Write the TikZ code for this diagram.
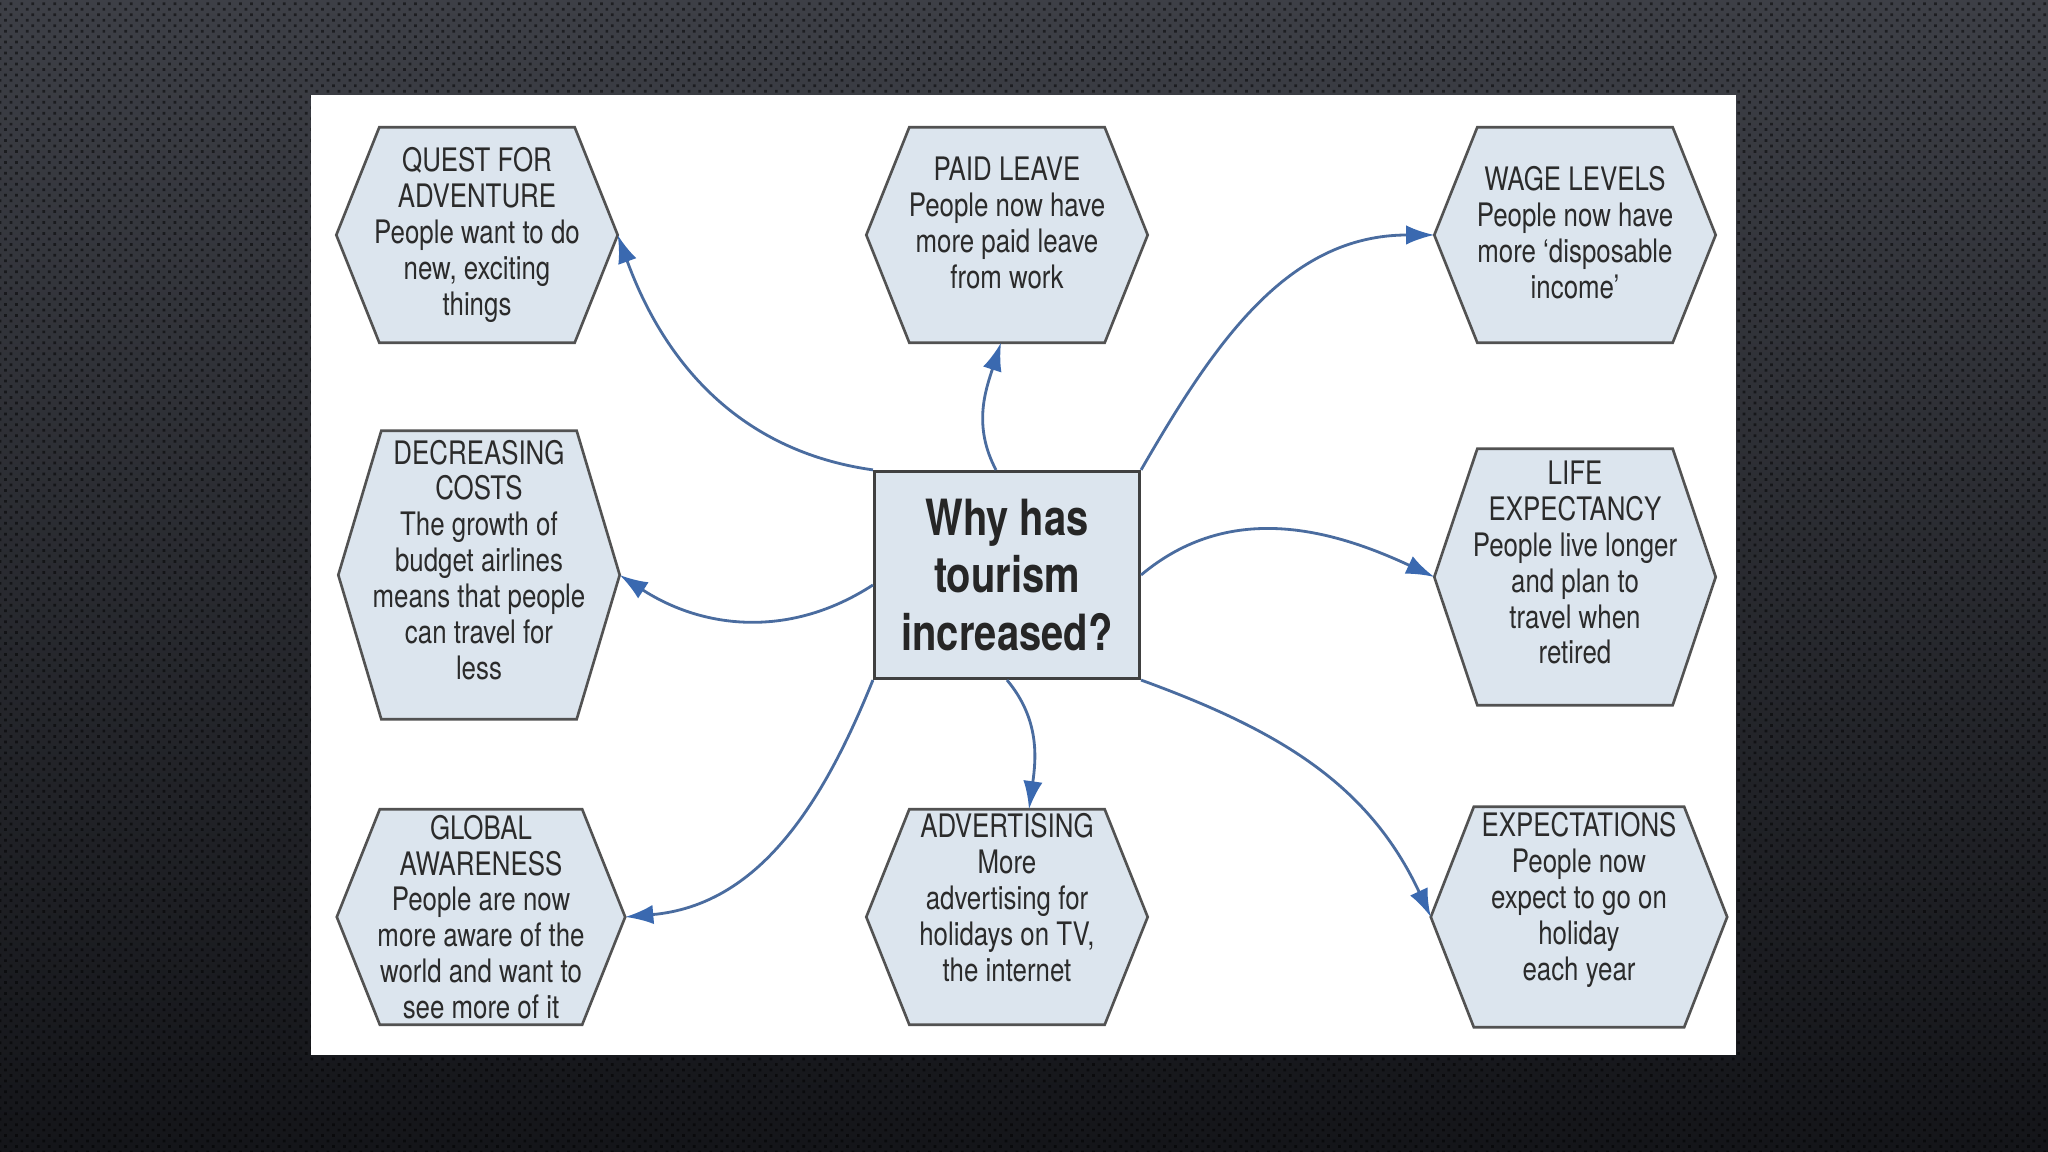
\documentclass[tikz,border=0pt]{standalone}
\usepackage{fontspec}
\setmainfont{TeX Gyre Heros}[FakeStretch=0.8]
\usepackage{xcolor}
\usepackage{tikz}
\usetikzlibrary{arrows.meta}
\usetikzlibrary{patterns.meta}
\usetikzlibrary{backgrounds}

\definecolor{bgtop}{HTML}{3D3F46}
\definecolor{bgbottom}{HTML}{141519}
\definecolor{hexfill}{HTML}{DCE5EE}
\definecolor{hexrim}{HTML}{525252}
\definecolor{inktext}{HTML}{2B2B2B}
\definecolor{linkblue}{HTML}{4A6C9F}
\definecolor{tipblue}{HTML}{3A69B0}

\begin{document}
\begin{tikzpicture}[
  hexbox/.style={inner sep=0pt, minimum width=2.8cm, minimum height=2.14cm,
    align=center, text=inktext, font=\fontsize{9.2}{10.2}\selectfont},
  hexline/.style={draw=hexrim, line width=0.75pt, fill=hexfill, line join=miter},
  whybox/.style={draw=black!75, line width=0.9pt, fill=hexfill, inner sep=0pt,
    minimum width=2.65cm, minimum height=2.07cm, align=center, text=black!85,
    font=\fontsize{14.2}{16.4}\selectfont\bfseries},
  link/.style={draw=linkblue, line width=0.8pt,
    -{Latex[length=8pt,width=5.5pt,fill=tipblue,color=tipblue]}},
]

\useasboundingbox (0,0) rectangle (20.48,11.52);

% centre question
\node [whybox] (why) at (10.07,5.77) {Why has\\tourism\\increased?};

% top row
\node [hexbox] (quest) at (4.77,9.17) {QUEST FOR\\ADVENTURE\\People want to do\\new, exciting\\things};
\node [hexbox, text depth=0.24cm] (paid) at (10.07,9.17) {PAID LEAVE\\People now have\\more paid leave\\from work};
\node [hexbox, text depth=0.05cm] (wage) at (15.75,9.17) {WAGE LEVELS\\People now have\\more `disposable\\income'};

% middle row
\node [hexbox, minimum height=2.87cm, text depth=0.31cm] (costs) at (4.79,5.77) {DECREASING\\COSTS\\The growth of\\budget airlines\\means that people\\can travel for\\less};
\node [hexbox, minimum height=2.55cm, text depth=0.29cm] (life) at (15.75,5.75) {LIFE\\EXPECTANCY\\People live longer\\and plan to\\travel when\\retired};

% bottom row
\node [hexbox, minimum width=2.87cm] (global) at (4.81,2.35) {GLOBAL\\AWARENESS\\People are now\\more aware of the\\world and want to\\see more of it};
\node [hexbox, text depth=0.39cm] (advert) at (10.07,2.35) {ADVERTISING\\More\\advertising for\\holidays on TV,\\the internet};
\node [hexbox, minimum width=2.95cm, minimum height=2.19cm, text depth=0.41cm] (expect) at (15.79,2.35) {EXPECTATIONS\\People now\\expect to go on\\holiday\\each year};

% arrows out of the centre
\draw [link] (why.north west) to [out=172, in=-70] (quest.east);
\draw [link] ([xshift=-0.11cm]why.north) to [out=118, in=-108] ([xshift=-0.06cm]paid.south);
\draw [link] (why.north east) to [out=60, in=180] (wage.west);
\draw [link] ([yshift=-0.1cm]why.west) to [out=213, in=-33] (costs.east);
\draw [link] (why.east) to [out=40, in=155] (life.west);
\draw [link] (why.south west) to [out=-112, in=5] (global.east);
\draw [link] (why.south) to [out=-50, in=82] ([xshift=0.22cm]advert.north);
\draw [link] (why.south east) to [out=-20, in=115] (expect.west);

\begin{scope}[on background layer]
  % slide backdrop and white panel
  \fill [top color=bgtop, bottom color=bgbottom] (0,0) rectangle (20.48,11.52);
  \fill [pattern={Dots[distance=2.2pt, radius=0.55pt, angle=45]}, pattern color=black, opacity=0.5]
    (0,0) rectangle (20.48,11.52);
  \fill [white] (3.11,0.97) rectangle (17.36,10.57);
  % hexagons behind the texts
  \foreach \n in {quest,paid,wage,costs,life,global,advert,expect} {
    \draw [hexline] (\n.west) -- ([xshift=0.43cm]\n.north west) -- ([xshift=-0.43cm]\n.north east)
      -- (\n.east) -- ([xshift=-0.43cm]\n.south east) -- ([xshift=0.43cm]\n.south west) -- cycle;
  }
\end{scope}

\end{tikzpicture}
\end{document}
